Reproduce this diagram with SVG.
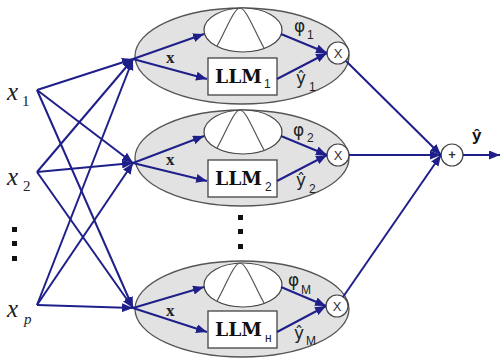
<svg xmlns="http://www.w3.org/2000/svg" width="500" height="360" viewBox="0 0 500 360">
<style>
.outer{fill:#e2e2e2;stroke:#555;stroke-width:1.3}
.inner{fill:#fff;stroke:#444;stroke-width:1.2}
.bell{fill:none;stroke:#555;stroke-width:1.2}
.box{fill:#fff;stroke:#444;stroke-width:1.3}
.op{fill:#fff;stroke:#444;stroke-width:1.2}
.c{stroke:#1f1f8a;stroke-width:2;fill:none}
.a{marker-end:url(#ah)}
.llm{font-family:"DejaVu Serif",serif;font-weight:bold;font-size:19px;fill:#111}
.sub{font-family:"Liberation Sans",sans-serif;font-size:12px;fill:#222}
.gr{font-family:"DejaVu Sans",sans-serif;font-size:17px;fill:#222}
.xl{font-family:"Liberation Serif",serif;font-weight:bold;font-size:17px;fill:#222}
.inp{font-family:"Liberation Serif",serif;font-style:italic;font-size:25px;fill:#222}
.isub{font-family:"Liberation Serif",serif;font-size:15px;fill:#222}
.opt{font-family:"Liberation Sans",sans-serif;font-size:13px;fill:#333;text-anchor:middle}
.dot{fill:#111}
</style>
<defs>
<marker id="ah" markerUnits="userSpaceOnUse" markerWidth="11" markerHeight="9" refX="11" refY="4.5" orient="auto">
<path d="M0,0 L11,4.5 L0,9 z" fill="#1f1f8a"/>
</marker>
</defs>

<g id="input-x1"><text class="inp" x="7" y="100">x</text><text class="isub" x="22" y="106">1</text></g>
<g id="input-x2"><text class="inp" x="7" y="185">x</text><text class="isub" x="23" y="191">2</text></g>
<g id="input-dots"><rect class="dot" x="12" y="227" width="5" height="5"/><rect class="dot" x="12" y="241" width="5" height="5"/><rect class="dot" x="12" y="256" width="5" height="5"/></g>
<g id="input-xp"><text class="inp" x="7" y="317">x</text><text class="isub" x="24" y="324" font-style="italic">p</text></g>

<g id="module-1">
<ellipse class="outer" cx="242" cy="56" rx="107" ry="48"/>
<ellipse class="inner" cx="243" cy="30" rx="39" ry="22"/>
<path class="bell" d="M217,46 C226,30 234,8 240,8 C246,8 254,30 264,48"/>
<rect class="box" x="208" y="58" width="69" height="37"/>
<text class="llm" x="215" y="83" textLength="47" lengthAdjust="spacingAndGlyphs">LLM</text><text class="sub" x="264" y="88">1</text>
<text class="xl" x="166" y="63">x</text>
<text class="gr" x="294" y="32">φ</text><text class="sub" x="307" y="39">1</text>
<text class="gr" x="296" y="84">ŷ</text><text class="sub" x="309" y="91">1</text>
<circle class="op" cx="338" cy="53" r="11"/><text class="opt" x="338" y="58">X</text>
</g>

<g id="module-2">
<ellipse class="outer" cx="242" cy="158" rx="107" ry="48"/>
<ellipse class="inner" cx="243" cy="132" rx="39" ry="22"/>
<path class="bell" d="M217,148 C226,132 234,110 240,110 C246,110 254,132 264,150"/>
<rect class="box" x="208" y="160" width="69" height="37"/>
<text class="llm" x="215" y="185" textLength="47" lengthAdjust="spacingAndGlyphs">LLM</text><text class="sub" x="265" y="191">2</text>
<text class="xl" x="166" y="165">x</text>
<text class="gr" x="293" y="136">φ</text><text class="sub" x="307" y="142">2</text>
<text class="gr" x="296" y="186">ŷ</text><text class="sub" x="309" y="193">2</text>
<circle class="op" cx="338" cy="155" r="11"/><text class="opt" x="338" y="160">X</text>
</g>

<g id="module-dots"><rect class="dot" x="238" y="215" width="5" height="5"/><rect class="dot" x="238" y="229" width="5" height="5"/><rect class="dot" x="238" y="244" width="5" height="5"/></g>

<g id="module-M">
<ellipse class="outer" cx="242" cy="309" rx="107" ry="48"/>
<ellipse class="inner" cx="243" cy="285" rx="39" ry="22"/>
<path class="bell" d="M217,301 C226,285 234,263 240,263 C246,263 254,285 264,303"/>
<rect class="box" x="208" y="311" width="69" height="37"/>
<text class="llm" x="215" y="336" textLength="47" lengthAdjust="spacingAndGlyphs">LLM</text><text class="sub" x="265" y="342">н</text>
<text class="xl" x="166" y="316">x</text>
<text class="gr" x="288" y="286">φ</text><text class="sub" x="301" y="294">M</text>
<text class="gr" x="294" y="339">ŷ</text><text class="sub" x="306" y="345">M</text>
<circle class="op" cx="337" cy="306" r="11"/><text class="opt" x="337" y="311">X</text>
</g>

<g id="sum"><circle class="op" cx="452" cy="155" r="11"/><text class="opt" x="452" y="159" font-size="12" font-weight="bold">+</text></g>
<g id="output-label"><text x="472" y="141" font-family="Liberation Sans, sans-serif" font-weight="bold" font-size="17" fill="#111">ŷ</text></g>

<g id="connectors">
<path class="c a" d="M37,90 L133,59"/>
<path class="c a" d="M37,90 L133,163"/>
<path class="c a" d="M37,90 L133,308"/>
<path class="c a" d="M37,172 L133,59"/>
<path class="c a" d="M37,172 L133,163"/>
<path class="c a" d="M37,172 L133,308"/>
<path class="c a" d="M37,305 L133,59"/>
<path class="c a" d="M37,305 L133,163"/>
<path class="c a" d="M37,305 L133,308"/>

<path class="c a" d="M133,59 L204,34"/>
<path class="c a" d="M133,59 L207,79"/>
<path class="c a" d="M281,34 L327,53"/>
<path class="c a" d="M277,79 L327,53"/>

<path class="c a" d="M133,163 L204,136"/>
<path class="c a" d="M133,163 L207,181"/>
<path class="c a" d="M281,136 L327,155"/>
<path class="c a" d="M277,181 L327,155"/>

<path class="c a" d="M133,308 L204,287"/>
<path class="c a" d="M133,308 L207,332"/>
<path class="c a" d="M281,287 L326,306"/>
<path class="c a" d="M277,332 L326,306"/>

<path class="c a" d="M346,61 L441,155"/>
<path class="c a" d="M349,155 L441,155"/>
<path class="c a" d="M343,297 L441,155"/>
<path class="c a" d="M463,155 L500,155"/>
</g>
</svg>
